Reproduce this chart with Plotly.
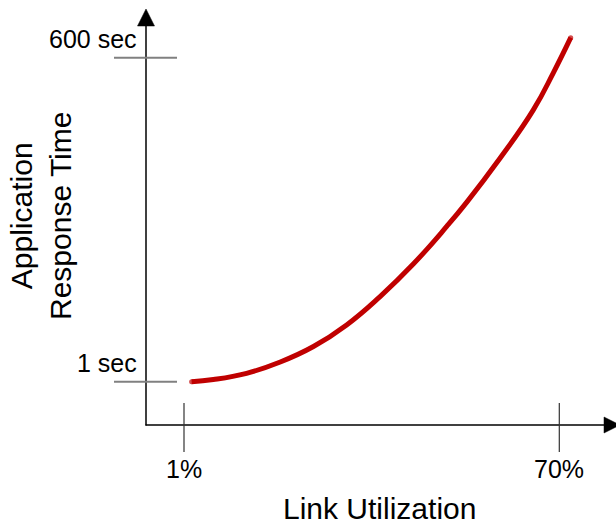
import plotly.graph_objects as go

# ---- data ----
utilization = [2.4, 6.4, 12.5, 18.7, 24.8, 30.9, 37.0, 43.2, 49.3, 53.0, 59.1, 65.2, 68.9, 72.1]
response_sec = [1, 5.0, 16.5, 37.4, 66, 106, 158, 219, 288, 333, 414, 503, 572, 637]
x_tick_vals = [1, 70]
x_tick_labels = ["1%", "70%"]
y_tick_vals = [1, 600]
y_tick_labels = ["1 sec", "600 sec"]
x_title = "Link Utilization"
y_title = "Application<br>Response Time"

# ---- layout geometry ----
W, H = 616, 525
X_PX = (184, 559.3)   # pixel x of x ticks
Y_PX = (381.7, 57.7)  # pixel y of y ticks
sx = (X_PX[1] - X_PX[0]) / (x_tick_vals[1] - x_tick_vals[0])
sy = (Y_PX[0] - Y_PX[1]) / (y_tick_vals[1] - y_tick_vals[0])
x_range = [x_tick_vals[0] - X_PX[0] / sx, x_tick_vals[0] + (W - X_PX[0]) / sx]
y_range = [y_tick_vals[0] - (H - Y_PX[0]) / sy, y_tick_vals[0] + Y_PX[0] / sy]


def px(x):
    return x / W


def py(y):
    return 1 - y / H


FONT = "Liberation Sans, Arial, sans-serif"
RED = "#C00000"

fig = go.Figure()
cap_sizes = [5] + [0] * (len(utilization) - 2) + [5]
fig.add_trace(go.Scatter(
    x=utilization, y=response_sec, mode="lines+markers",
    line=dict(color=RED, width=5, shape="spline", smoothing=1.3),
    marker=dict(color=RED, size=cap_sizes, line=dict(width=0)),
    hoverinfo="skip", showlegend=False,
))

shapes = []
# axis lines
shapes.append(dict(type="line", xref="paper", yref="paper",
                   x0=px(146), y0=py(425.5), x1=px(146), y1=py(22),
                   line=dict(color="black", width=1.5)))
shapes.append(dict(type="line", xref="paper", yref="paper",
                   x0=px(145.5), y0=py(425), x1=px(606), y1=py(425),
                   line=dict(color="black", width=1.5)))
# arrowheads
shapes.append(dict(type="path", xref="paper", yref="paper",
                   path=f"M {px(146)} {py(9)} L {px(137.5)} {py(26)} L {px(154.5)} {py(26)} Z",
                   fillcolor="black", line=dict(color="black", width=0.5)))
shapes.append(dict(type="path", xref="paper", yref="paper",
                   path=f"M {px(620)} {py(425)} L {px(604)} {py(417)} L {px(604)} {py(433)} Z",
                   fillcolor="black", line=dict(color="black", width=0.5)))
# x tick marks
for v in x_tick_vals:
    shapes.append(dict(type="line", xref="x", yref="paper",
                       x0=v, x1=v, y0=py(403), y1=py(452),
                       line=dict(color="#333333", width=1.2)))
# y tick marks
for v in y_tick_vals:
    shapes.append(dict(type="line", xref="paper", yref="y",
                       x0=px(114), x1=px(177), y0=v, y1=v,
                       line=dict(color="#808080", width=2)))

annotations = []
for v, t in zip(x_tick_vals, x_tick_labels):
    annotations.append(dict(x=v, xref="x", y=py(469), yref="paper", text=t,
                            showarrow=False, xanchor="center", yanchor="middle",
                            font=dict(family=FONT, size=25, color="black")))
for v, t in zip(y_tick_vals, y_tick_labels):
    annotations.append(dict(x=px(139), xref="paper", y=v, yref="y", yshift=18.5,
                            text=t, showarrow=False, xanchor="right", yanchor="middle",
                            font=dict(family=FONT, size=25, color="black")))
annotations.append(dict(x=px(379), xref="paper", y=py(508), yref="paper", text=x_title,
                        showarrow=False, xanchor="center", yanchor="middle", borderpad=0,
                        font=dict(family=FONT, size=30, color="black")))
annotations.append(dict(x=px(41), xref="paper", y=py(216), yref="paper", text=y_title,
                        showarrow=False, xanchor="center", yanchor="middle", textangle=-90,
                        font=dict(family=FONT, size=30, color="black")))

fig.update_layout(
    width=W, height=H,
    margin=dict(l=0, r=0, t=0, b=0),
    paper_bgcolor="white", plot_bgcolor="white",
    xaxis=dict(range=x_range, visible=False, fixedrange=True),
    yaxis=dict(range=y_range, visible=False, fixedrange=True),
    shapes=shapes, annotations=annotations,
    showlegend=False,
)

fig.write_html("out.html", config={"displayModeBar": False},
               post_script="document.body.style.margin='0px';document.body.style.overflow='hidden';")
